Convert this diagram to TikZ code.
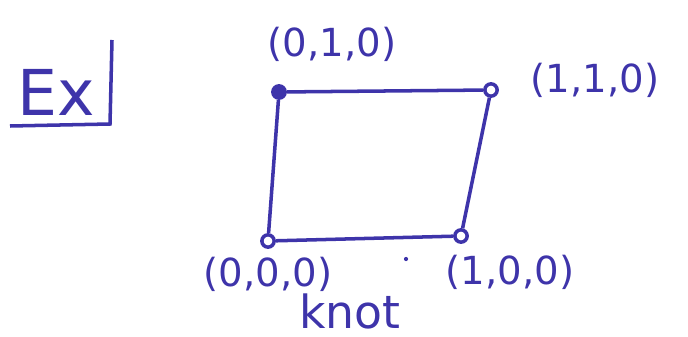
\documentclass[tikz,border=0pt]{standalone}
\usepackage{fontspec}
\setmainfont{DejaVu Sans}
\definecolor{ink}{RGB}{62,52,170}
\begin{document}
\begin{tikzpicture}[x=0.02cm, y=-0.02cm, ink, line width=2pt,
  lbl/.style={text=ink, font=\fontsize{22}{26}\selectfont},
  knotdot/.style={circle, draw=ink, inner sep=0pt, minimum size=7pt},
  filldot/.style={knotdot, fill=ink}]
\useasboundingbox (0,0) rectangle (688,337);
\node[filldot] (p010) at (279,92) {};
\node[knotdot] (p110) at (491,90) {};
\node[knotdot] (p100) at (461,236) {};
\node[knotdot] (p000) at (268,241) {};

\draw (p000) -- (p010);
\draw (p010) -- (p110);
\draw (p110) -- (p100);
\draw (p100) -- (p000);

\node[lbl] (t010) at (332,44) {(0,1,0)};
\node[lbl] (t110) at (595,80) {(1,1,0)};
\node[lbl] (t000) at (268,274) {(0,0,0)};
\node[lbl] (t100) at (510,272) {(1,0,0)};
\node[lbl, font=\fontsize{26}{30}\selectfont] (knot) at (350,311) {knot};
\fill (406,259) circle (1.2pt);

\node[lbl, font=\fontsize{36}{40}\selectfont] (ex) at (56,92) {Ex};
\coordinate (exa) at (112,40);
\coordinate (exb) at (110,124);
\coordinate (exc) at (10,126);
\draw (exa) -- (exb) -- (exc);
\end{tikzpicture}
\end{document}
